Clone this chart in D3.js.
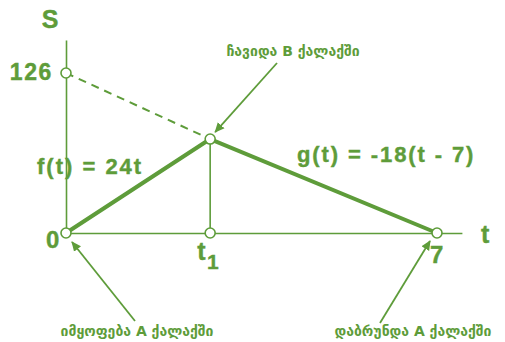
<!DOCTYPE html>
<html>
<head>
<meta charset="utf-8">
<script src="https://cdn.jsdelivr.net/npm/d3@7"></script>
<style>
  html, body { margin: 0; padding: 0; background: #ffffff; }
  svg { display: block; }
</style>
</head>
<body>
<svg id="chart" width="505" height="342"></svg>
<script>
// ---- data ----
const tPoints = [0, 2.72, 7];          // time points of the journey
const sPoints = [0, 74, 0];            // distance at those points
const dashT = [0, 2.72];               // extension of g(t) back to t = 0
const dashS = [126, 74];
const xTickValues = [0, 2.72, 7];
const xTickLabels = ["0", "t1", "7"];
const yTickValues = [126];
const yTickLabels = ["126"];
const tAxisMax = 7.47;
const sAxisMax = 152;
const fLabel = "f(t) = 24t";
const gLabel = "g(t) = -18(t - 7)";
const notes = ["ჩავიდა B ქალაქში", "იმყოფება A ქალაქში", "დაბრუნდა A ქალაქში"];

const green = "#5e9c3a";
const svg = d3.select("#chart");

const x = d3.scaleLinear().domain([0, 7]).range([66, 437]);
const y = d3.scaleLinear().domain([0, 126]).range([233, 73]);

// arrow marker
svg.append("defs").append("marker")
  .attr("id", "arr").attr("viewBox", "0 0 10 10")
  .attr("refX", 9).attr("refY", 5)
  .attr("markerWidth", 10).attr("markerHeight", 10)
  .attr("markerUnits", "userSpaceOnUse")
  .attr("orient", "auto")
  .append("path").attr("d", "M0,0.5 L10,5 L0,9.5 Z").attr("fill", green);

// axes
const xAxisScale = d3.scaleLinear().domain([0, tAxisMax]).range([x(0), x(tAxisMax)]);
const yAxisScale = d3.scaleLinear().domain([0, sAxisMax]).range([y(0), y(sAxisMax)]);
const gx = svg.append("g").attr("transform", `translate(0,${y(0)})`)
  .call(d3.axisBottom(xAxisScale).tickValues([]).tickSizeOuter(0));
const gy = svg.append("g").attr("transform", `translate(${x(0)},0)`)
  .call(d3.axisLeft(yAxisScale).tickValues([]).tickSizeOuter(0));
[gx, gy].forEach(g => g.select(".domain").attr("stroke", green).attr("stroke-width", 1.6));

// vertical guide at t1
svg.append("line")
  .attr("x1", x(tPoints[1])).attr("x2", x(tPoints[1]))
  .attr("y1", y(sPoints[1])).attr("y2", y(0))
  .attr("stroke", green).attr("stroke-width", 1.6);

// dashed extension
const line = d3.line().x(d => x(d[0])).y(d => y(d[1]));
svg.append("path")
  .attr("d", line(dashT.map((t, i) => [t, dashS[i]])))
  .attr("fill", "none").attr("stroke", green).attr("stroke-width", 2)
  .attr("stroke-dasharray", "8,6");

// main path
svg.append("path")
  .attr("d", line(tPoints.map((t, i) => [t, sPoints[i]])))
  .attr("fill", "none").attr("stroke", green).attr("stroke-width", 4)
  .attr("stroke-linejoin", "round");

// markers (open circles)
const circles = [[0, 126], [tPoints[1], sPoints[1]], [0, 0], [tPoints[1], 0], [7, 0]];
svg.selectAll("circle.pt").data(circles).join("circle")
  .attr("class", "pt")
  .attr("cx", d => x(d[0])).attr("cy", d => y(d[1])).attr("r", 5)
  .attr("fill", "#ffffff").attr("stroke", green).attr("stroke-width", 1.6);

const font = "'Liberation Sans', Arial, sans-serif";
function txt(str, px, py, size, anchor, ls) {
  return svg.append("text").attr("x", px).attr("y", py)
    .attr("fill", green).attr("font-family", font).attr("font-weight", "bold")
    .attr("font-size", size).attr("text-anchor", anchor || "start")
    .attr("letter-spacing", (ls === undefined ? 1.6 : ls) + "px")
    .attr("stroke", green).attr("stroke-width", 0.4)
    .text(str);
}

// axis names
txt("S", 50, 28, 25, "middle", 0);
txt("t", 481, 243, 25, "start", 0);

// y tick label
yTickValues.forEach((v, i) => txt(yTickLabels[i], 53, y(v) + 7, 23, "end"));

// x tick labels
xTickValues.forEach((v, i) => {
  const lab = xTickLabels[i];
  if (lab === "t1") {
    const t = txt("", x(v) - 13, 260, 25, "start");
    t.append("tspan").text("t");
    t.append("tspan").attr("dy", 9).attr("font-size", 21).text("1");
  } else if (i === 0) {
    txt(lab, x(v) - 5, 248, 24, "end");
  } else {
    txt(lab, x(v) - 7, 263, 24, "start");
  }
});

// function labels
txt(fLabel, 37, 174, 22, "start", 2);
txt(gLabel, 297, 162, 22, "start", 1.9);

// annotations
const gfont = "'DejaVu Sans', 'Noto Sans', sans-serif";
function note(str, px, py) {
  return svg.append("text").attr("x", px).attr("y", py)
    .attr("fill", green).attr("font-family", gfont).attr("font-weight", "bold")
    .attr("font-size", 14).attr("text-anchor", "middle").text(str);
}
note(notes[0], 293, 56);
note(notes[1], 137, 336);
note(notes[2], 413, 336);

function arrow(x1, y1, x2, y2) {
  svg.append("line").attr("x1", x1).attr("y1", y1).attr("x2", x2).attr("y2", y2)
    .attr("stroke", green).attr("stroke-width", 1.8).attr("marker-end", "url(#arr)");
}
arrow(277, 63, x(tPoints[1]) + 5, y(sPoints[1]) - 7);
arrow(135, 321, x(0) + 6, y(0) + 9);
arrow(380, 323, x(7) - 7, y(0) + 8);
</script>
</body>
</html>
